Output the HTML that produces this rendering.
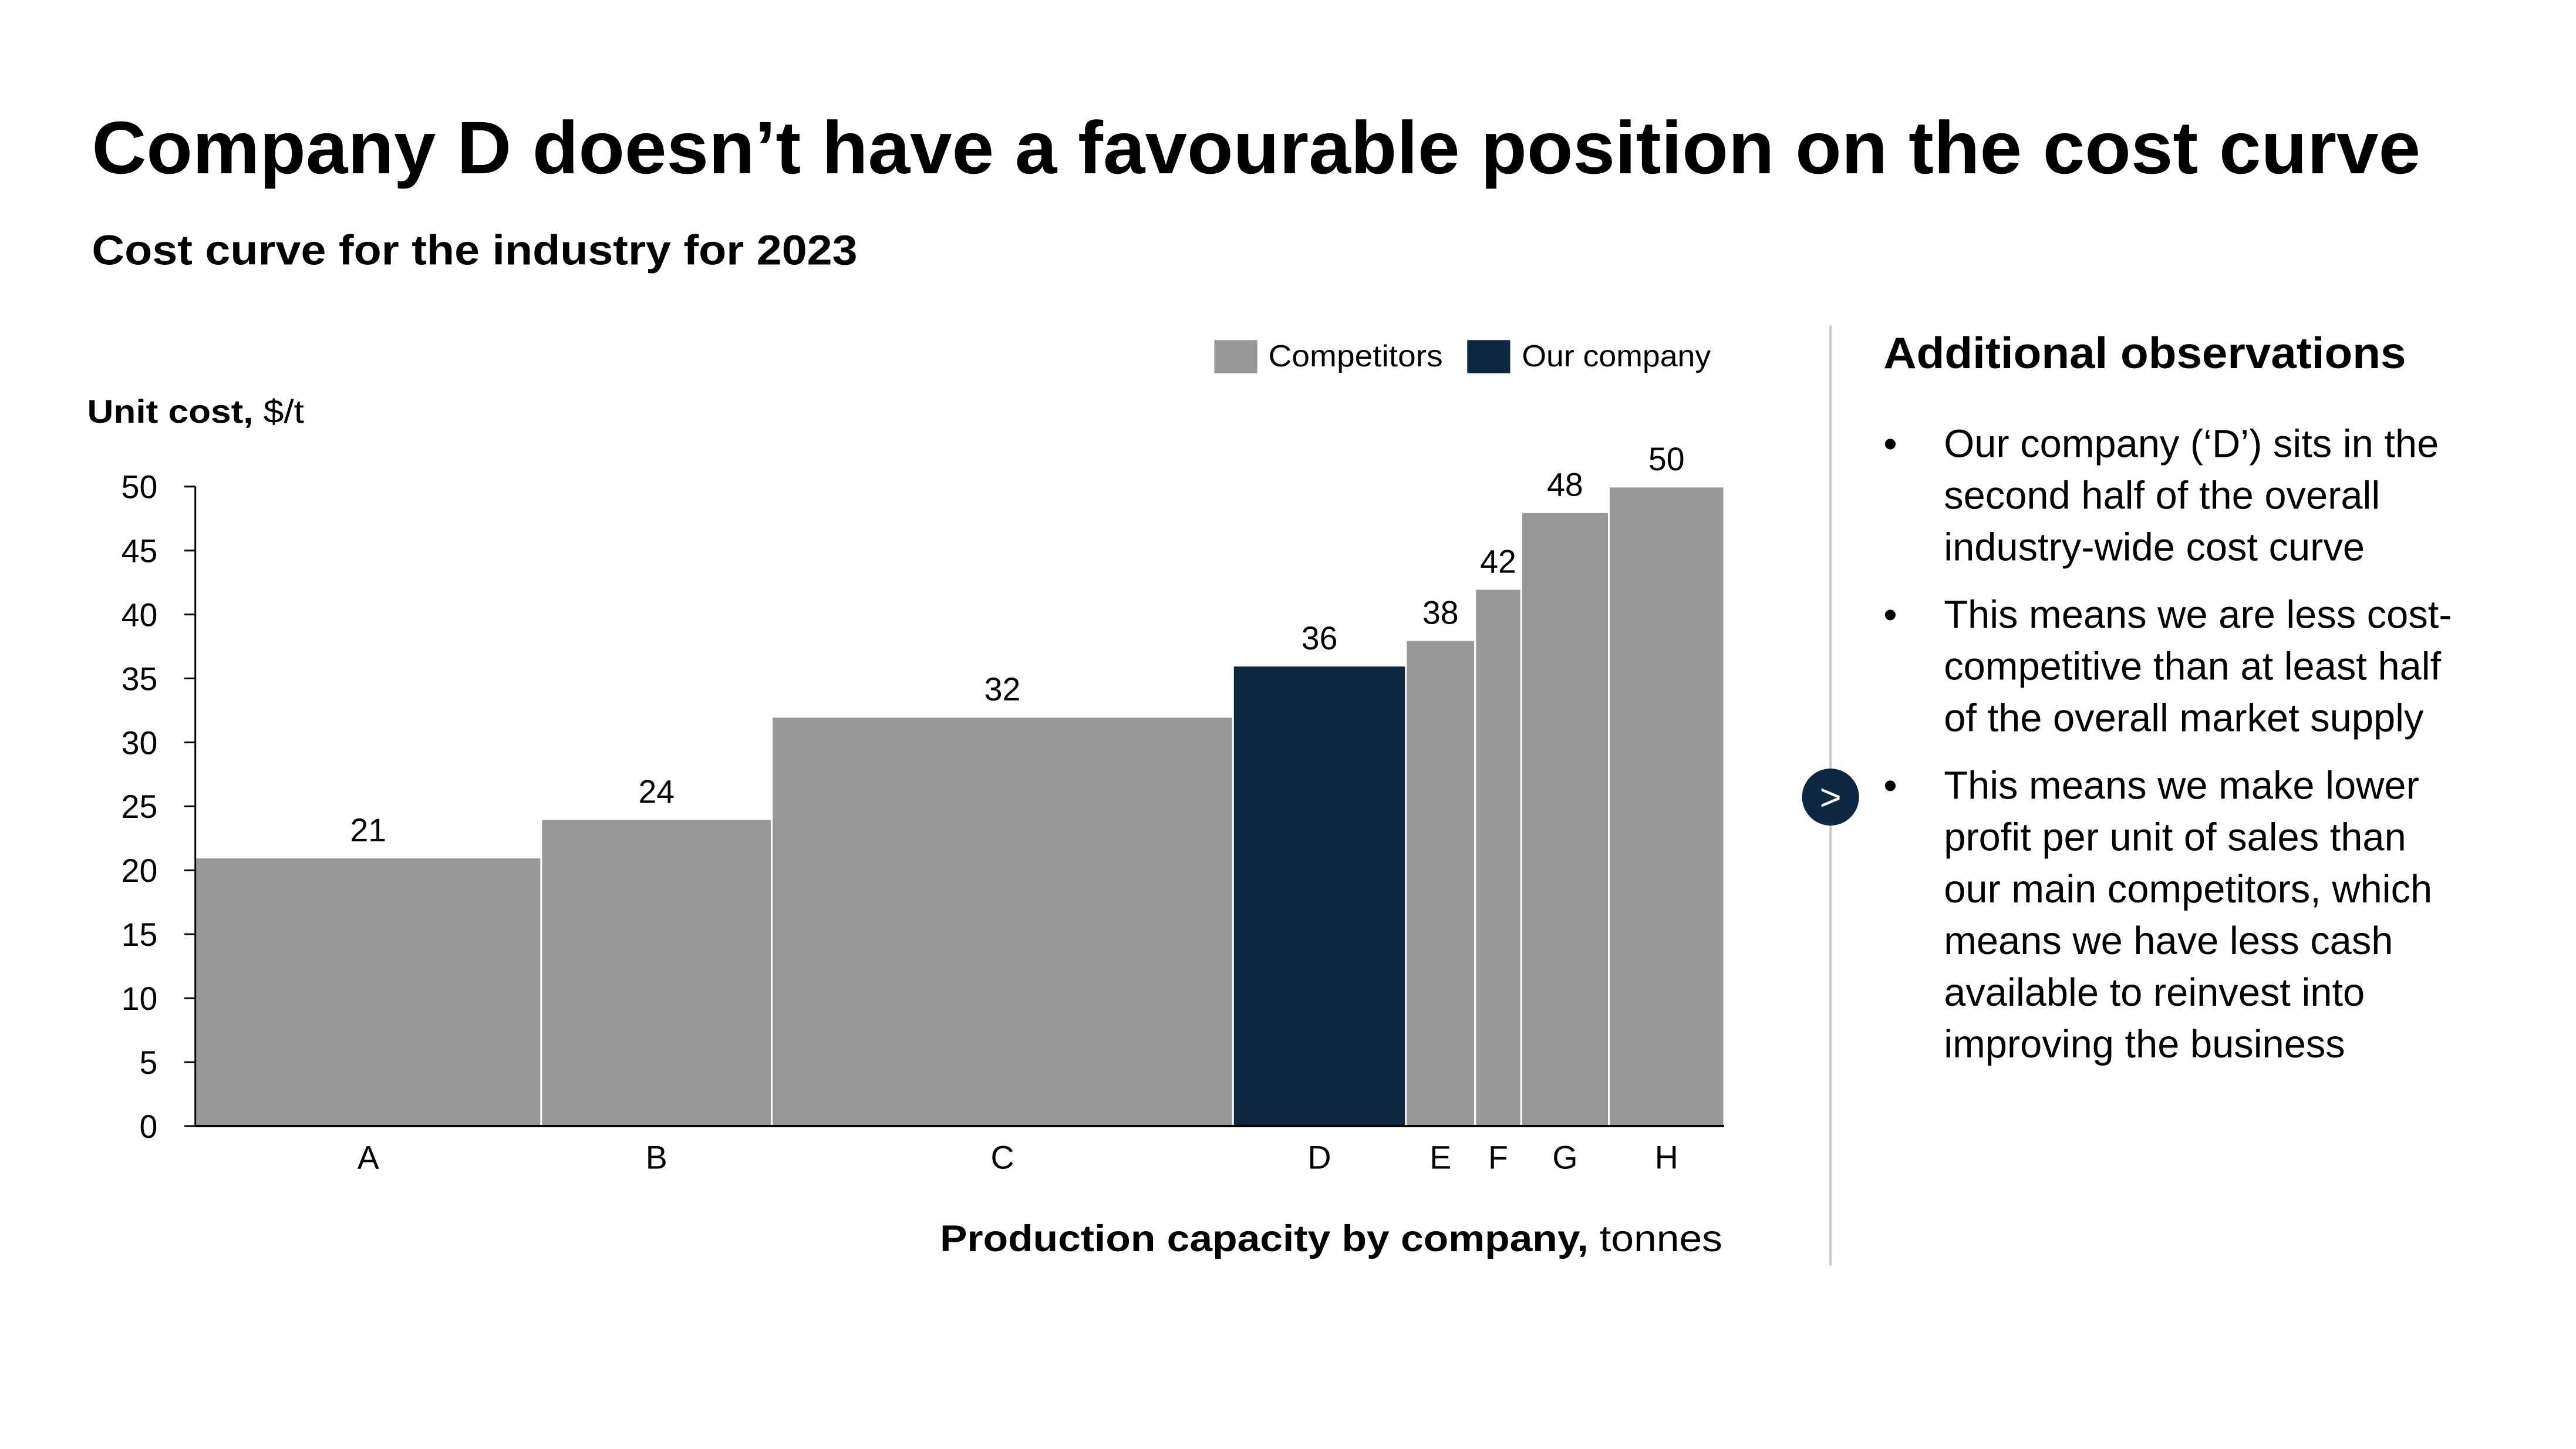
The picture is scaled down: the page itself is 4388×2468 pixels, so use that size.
<!DOCTYPE html>
<html><head><meta charset="utf-8"><style>
html,body{margin:0;padding:0;background:#fff;}
svg{display:block;font-family:"Liberation Sans",sans-serif;}
</style></head><body>
<svg id="page" width="4388" height="2468" viewBox="0 0 4388 2468">
<g transform="scale(0.9902)">
<text x="158" y="298" font-size="128" font-weight="bold" fill="#000" textLength="4006" lengthAdjust="spacingAndGlyphs">Company D doesn’t have a favourable position on the cost curve</text>
<text x="158" y="455" font-size="72" font-weight="bold" fill="#000" textLength="1317" lengthAdjust="spacingAndGlyphs">Cost curve for the industry for 2023</text>

<g>
<rect x="2089" y="585" width="74" height="57" fill="#979797"/>
<text x="2182" y="630" font-size="52" textLength="300" lengthAdjust="spacingAndGlyphs">Competitors</text>
<rect x="2524" y="585" width="74" height="57" fill="#0f2841"/>
<text x="2618" y="630" font-size="52" textLength="325" lengthAdjust="spacingAndGlyphs">Our company</text>
</g>

<text x="150" y="727" font-size="56" textLength="373" lengthAdjust="spacingAndGlyphs"><tspan font-weight="bold">Unit cost,</tspan> $/t</text>

<g id="chart"></g>

<text x="2963" y="2152" font-size="64" text-anchor="end" textLength="1346" lengthAdjust="spacingAndGlyphs"><tspan font-weight="bold">Production capacity by company,</tspan> tonnes</text>

<line x1="3149" y1="560" x2="3149" y2="2177" stroke="#c8c8c8" stroke-width="4"/>
<g>
<circle cx="3149" cy="1371" r="49" fill="#0f2841"/>
<text x="3149" y="1393" font-size="64" fill="#fff" text-anchor="middle">&gt;</text>
</g>

<text x="3240" y="633" font-size="76" font-weight="bold" textLength="899" lengthAdjust="spacingAndGlyphs">Additional observations</text>

<g font-size="67.5" fill="#000">
<text x="3240" y="786">•</text>
<text x="3344" y="786">Our company (‘D’) sits in the</text>
<text x="3344" y="875">second half of the overall</text>
<text x="3344" y="964">industry-wide cost curve</text>
<text x="3240" y="1080">•</text>
<text x="3344" y="1080">This means we are less cost-</text>
<text x="3344" y="1169">competitive than at least half</text>
<text x="3344" y="1258">of the overall market supply</text>
<text x="3240" y="1374">•</text>
<text x="3344" y="1374">This means we make lower</text>
<text x="3344" y="1463">profit per unit of sales than</text>
<text x="3344" y="1552">our main competitors, which</text>
<text x="3344" y="1641">means we have less cash</text>
<text x="3344" y="1730">available to reinvest into</text>
<text x="3344" y="1819">improving the business</text>
</g>
</g>
</svg>
<script>
const categories = ["A","B","C","D","E","F","G","H"];
const capacities = [150,100,200,75,30,20,38,50];
const unitCosts = [21,24,32,36,38,42,48,50];
const isOurCompany = [false,false,false,true,false,false,false,false];
const yTicks = [0,5,10,15,20,25,30,35,40,45,50];

const NS = "http://www.w3.org/2000/svg";
const g = document.getElementById("chart");
const X0 = 336, X1 = 2966, Y0 = 1937, Y1 = 837, YMAX = 50;
const totalCap = capacities.reduce((a,b)=>a+b,0);
const xScale = c => X0 + (c/totalCap)*(X1-X0);
const yScale = v => Y0 - (v/YMAX)*(Y0-Y1);
function mk(tag, attrs){ const e=document.createElementNS(NS,tag); for(const k in attrs) e.setAttribute(k,attrs[k]); g.appendChild(e); return e; }

let cum = 0;
categories.forEach((cat,i)=>{
  const xa = xScale(cum), xb = xScale(cum+capacities[i]);
  cum += capacities[i];
  const yt = yScale(unitCosts[i]);
  const r = mk("rect",{x:xa,y:yt,width:xb-xa,height:Y0-yt,fill:isOurCompany[i]?"#0f2841":"#979797",stroke:"#fff","stroke-width":3});
  
  
  const cx = (xa+xb)/2;
  const vl = mk("text",{x:cx,y:yt-28,"font-size":56,"text-anchor":"middle"});
  vl.textContent = unitCosts[i];
  
  
  const cl = mk("text",{x:cx,y:2010,"font-size":56,"text-anchor":"middle"});
  cl.textContent = cat;
  
  
});

yTicks.forEach(t=>{
  const y = yScale(t);
  const tk = mk("line",{x1:317,x2:X0,y1:y,y2:y,stroke:"#000","stroke-width":3});
  
  
  const tl = mk("text",{x:271,y:y+20,"font-size":56,"text-anchor":"end"});
  tl.textContent = t;
  
  
});
const ya = mk("line",{x1:X0,x2:X0,y1:Y1,y2:Y0,stroke:"#000","stroke-width":3});


const xa = mk("line",{x1:X0,x2:X1,y1:Y0,y2:Y0,stroke:"#000","stroke-width":4});


</script>
</body></html>
